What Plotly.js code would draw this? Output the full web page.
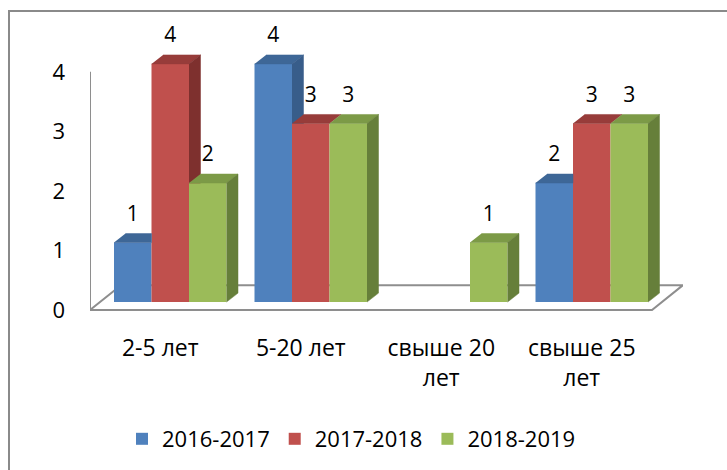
<!DOCTYPE html>
<html>
<head>
<meta charset="utf-8">
<script src="https://cdn.plot.ly/plotly-3.0.1.min.js"></script>
<style>
html, body { margin: 0; padding: 0; background: #ffffff; }
#chart { width: 727px; height: 470px; }
</style>
</head>
<body>
<div id="chart"></div>
<script>
// ---- data ----
const categories = ['2-5 лет', '5-20 лет', 'свыше 20 лет', 'свыше 25 лет'];
const seriesNames = ['2016-2017', '2017-2018', '2018-2019'];
const values2016_2017 = [1, 4, 0, 2];
const values2017_2018 = [4, 3, 0, 3];
const values2018_2019 = [2, 3, 1, 3];
const yTickValues = [0, 1, 2, 3, 4];
const yTickLabels = ['0', '1', '2', '3', '4'];

// ---- styles ----
const frontColors = ['#4F81BD', '#C0504D', '#9BBB59'];
const topColors   = ['#3E6797', '#973C3A', '#7C9A47'];
const sideColors  = ['#385D8A', '#7E302E', '#667F3A'];
const FONT = 'Open Sans, Liberation Sans, sans-serif';

// ---- geometry (pixels -> axis units) ----
const W = 727, H = 470;
const plotL = 90, plotR = 683, plotT = 30, plotB = 330, zeroY = 311;
const PX_CAT = 140.5, PX_UNIT = 59.75;
const xRange = [-0.5, -0.5 + (plotR - plotL) / PX_CAT];
const yRange = [-(plotB - zeroY) / PX_UNIT, (zeroY - plotT) / PX_UNIT];
const liftX = 10 / PX_CAT, liftY = 8 / PX_UNIT;      // bar front plane behind floor front edge
const depX = 11.5 / PX_CAT, depY = 9 / PX_UNIT;       // bar depth
const floorX = 31 / PX_CAT, floorY = 25 / PX_UNIT;    // floor depth
const barW = 37.5 / PX_CAT;
const labelLift = 27 / PX_UNIT;

const series = [values2016_2017, values2017_2018, values2018_2019];
const xc = (i, k) => i + liftX + (k - 1) * barW;

const traces = [];
// front faces (bars)
series.forEach((vals, k) => {
  traces.push({
    type: 'bar',
    name: seriesNames[k],
    x: vals.map((_, i) => xc(i, k)),
    y: vals,
    base: liftY,
    width: barW,
    marker: { color: frontColors[k], line: { width: 0 } },
    hoverinfo: 'skip'
  });
});

// top and side faces
series.forEach((vals, k) => {
  const topX = [], topY = [], sideX = [], sideY = [];
  vals.forEach((v, i) => {
    if (!(v > 0)) return;
    const xl = xc(i, k) - barW / 2, xr = xc(i, k) + barW / 2;
    const b = liftY, T = b + v;
    const next = k < series.length - 1 ? series[k + 1][i] : null;
    // top face
    if (next !== null && next > v) {
      topX.push(xl, xr, xr, xl + depX, null);
      topY.push(T, T, T + depY, T + depY, null);
    } else {
      topX.push(xl, xr, xr + depX, xl + depX, null);
      topY.push(T, T, T + depY, T + depY, null);
    }
    // side face
    if (next === null || next === 0) {
      sideX.push(xr, xr + depX, xr + depX, xr, null);
      sideY.push(b, b + depY, T + depY, T, null);
    } else if (next < v) {
      const Y = b + next;
      sideX.push(xr, xr + depX, xr + depX, xr, null);
      sideY.push(Y, Y, T + depY, T, null);
    }
  });
  traces.push({
    type: 'scatter', mode: 'lines', x: topX, y: topY, fill: 'toself',
    fillcolor: topColors[k], line: { color: topColors[k], width: 0.5 },
    showlegend: false, hoverinfo: 'skip'
  });
  if (sideX.length) {
    traces.push({
      type: 'scatter', mode: 'lines', x: sideX, y: sideY, fill: 'toself',
      fillcolor: sideColors[k], line: { color: sideColors[k], width: 0.5 },
      showlegend: false, hoverinfo: 'skip'
    });
  }
});

// data labels
series.forEach((vals, k) => {
  const lx = [], ly = [], lt = [];
  vals.forEach((v, i) => {
    if (!(v > 0)) return;
    lx.push(xc(i, k));
    ly.push(liftY + v + labelLift);
    lt.push(String(v));
  });
  traces.push({
    type: 'scatter', mode: 'text', x: lx, y: ly, text: lt,
    textposition: 'middle center',
    textfont: { family: FONT, size: 21, color: '#000000' },
    cliponaxis: false, showlegend: false, hoverinfo: 'skip'
  });
});

const nCat = categories.length;
const tickText = categories.map(c => c.length > 9 ? c.replace(/ (\S+)$/, '<br>$1') : c);
const px2paperX = p => (p - plotL) / (plotR - plotL);
const px2paperY = p => (plotB - p) / (plotB - plotT);

const shapes = [
  // floor outline
  {
    type: 'path', xref: 'x', yref: 'y', layer: 'below',
    path: `M ${-0.5},0 L ${nCat - 0.5},0 L ${nCat - 0.5 + floorX},${floorY} L ${-0.5 + floorX},${floorY} Z`,
    line: { color: '#8E8E8E', width: 2 }, fillcolor: 'rgba(0,0,0,0)'
  },
  // vertical axis line
  {
    type: 'line', xref: 'x', yref: 'y', layer: 'below',
    x0: -0.5, x1: -0.5, y0: 0, y1: yTickValues[yTickValues.length - 1],
    line: { color: '#8E8E8E', width: 2 }
  },
  // chart frame
  {
    type: 'rect', xref: 'paper', yref: 'paper', layer: 'below',
    x0: px2paperX(9), x1: px2paperX(760), y0: px2paperY(11), y1: px2paperY(520),
    line: { color: '#8A8A8A', width: 2 }, fillcolor: 'rgba(0,0,0,0)'
  }
];

const layout = {
  width: W, height: H,
  margin: { l: plotL, r: W - plotR, t: plotT, b: H - plotB, pad: 0 },
  paper_bgcolor: '#ffffff', plot_bgcolor: 'rgba(0,0,0,0)',
  font: { family: FONT, size: 21, color: '#000000' },
  barmode: 'overlay',
  showlegend: true,
  legend: {
    orientation: 'h', x: px2paperX(122), xanchor: 'left',
    y: px2paperY(439), yanchor: 'middle',
    font: { family: FONT, size: 22, color: '#000000' },
    bgcolor: 'rgba(0,0,0,0)', traceorder: 'normal'
  },
  xaxis: {
    range: xRange, tickvals: categories.map((_, i) => i), ticktext: tickText,
    showgrid: false, zeroline: false, showline: false, ticks: '',
    tickfont: { family: FONT, size: 23, color: '#000000' },
    ticklabelstandoff: 3, fixedrange: true
  },
  yaxis: {
    range: yRange, tickvals: yTickValues, ticktext: yTickLabels,
    showgrid: false, zeroline: false, showline: false, ticks: '',
    tickfont: { family: FONT, size: 22, color: '#000000' },
    ticklabelstandoff: 24, fixedrange: true
  },
  shapes: shapes
};

Plotly.newPlot('chart', traces, layout, { staticPlot: true, displayModeBar: false });
</script>
</body>
</html>
